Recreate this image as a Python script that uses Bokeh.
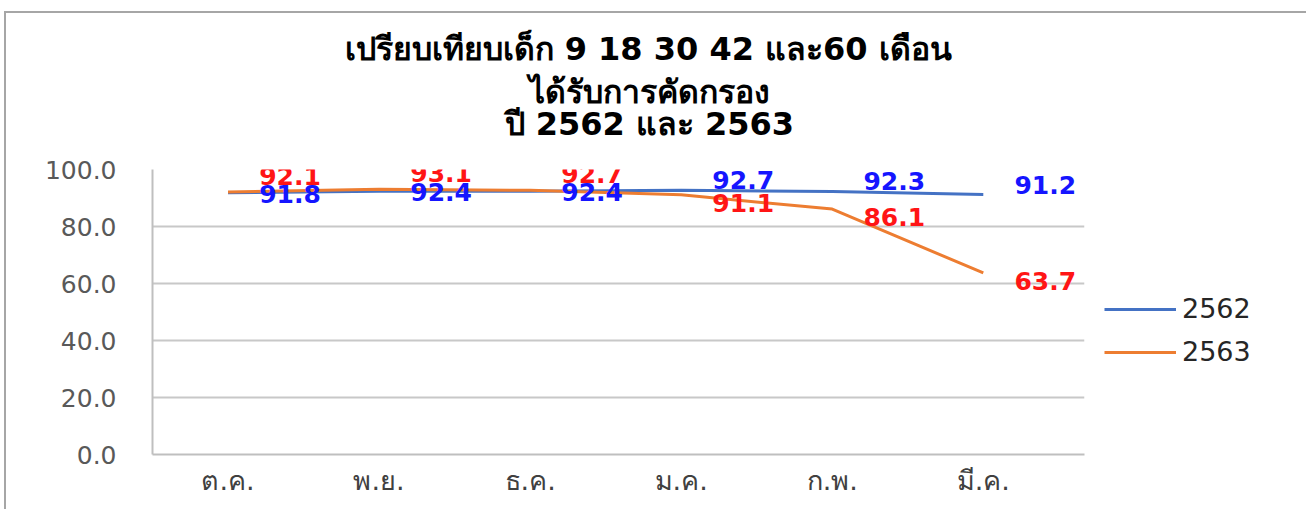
from bokeh.plotting import figure
from bokeh.models import (Legend, LegendItem, Title, ColumnDataSource, Range1d,
                          LabelSet, CustomJSTickFormatter, FixedTicker)
from bokeh.core.properties import value
from bokeh.embed import file_html
from bokeh.resources import INLINE

months = ["ต.ค.", "พ.ย.", "ธ.ค.", "ม.ค.", "ก.พ.", "มี.ค."]
y2562 = [91.8, 92.4, 92.4, 92.7, 92.3, 91.2]
y2563 = [92.1, 93.1, 92.7, 91.1, 86.1, 63.7]
series_names = ["2562", "2563"]
title_lines = ["เปรียบเทียบเด็ก 9 18 30 42 และ60 เดือน", "ได้รับการคัดกรอง", "ปี 2562 และ 2563"]
y_ticks = [0, 20, 40, 60, 80, 100]

BLUE = "#4472C4"
ORANGE = "#ED7D31"

# category centres on a numeric axis (room on the right for the last data labels)
xpos = [i + 0.5 for i in range(len(months))]

p = figure(x_range=Range1d(0, len(months) + 0.17), y_range=Range1d(0, 100),
           width=1292, height=496, frame_width=932, frame_height=285,
           min_border_left=146, min_border_right=214, min_border_top=156, min_border_bottom=55,
           output_backend="svg", toolbar_location=None, tools="", title=None)
p.styles = {"border": "2px solid #A6A6A6", "margin-left": "4px", "margin-top": "11px"}
p.outline_line_color = None
p.background_fill_color = "white"

r1 = p.line(xpos, y2562, line_color=BLUE, line_width=3)
r2 = p.line(xpos, y2563, line_color=ORANGE, line_width=3)

# data labels
off_blue = [10 if b > o else -1 for b, o in zip(y2562, y2563)]
off_org = [16 if o > b else -8 for b, o in zip(y2562, y2563)]
src_b = ColumnDataSource(dict(x=xpos, y=y2562, t=[f"{v:.1f}" for v in y2562], dy=off_blue))
src_o = ColumnDataSource(dict(x=xpos, y=y2563, t=[f"{v:.1f}" for v in y2563], dy=off_org))
for src, col in ((src_b, "#1515FF"), (src_o, "#FF1515")):
    p.add_layout(LabelSet(x="x", y="y", text="t", source=src, x_offset=62, y_offset="dy",
                          text_color=col, text_font=value("DejaVu Sans"), text_font_style="bold",
                          text_font_size="25px", text_align="center", text_baseline="middle"))

# axes
p.yaxis.ticker = y_ticks
p.yaxis.formatter = CustomJSTickFormatter(code="return tick.toFixed(1)")
p.yaxis.major_tick_line_color = None
p.yaxis.minor_tick_line_color = None
p.yaxis.axis_line_color = "#BFBFBF"
p.yaxis.axis_line_width = 2
p.yaxis.major_label_standoff = 30
p.yaxis.major_label_text_font = "DejaVu Sans"
p.yaxis.major_label_text_font_size = "25px"
p.yaxis.major_label_text_color = "#595959"

p.xaxis.ticker = FixedTicker(ticks=xpos)
p.xaxis.major_label_overrides = {x: m for x, m in zip(xpos, months)}
p.xaxis.major_tick_line_color = None
p.xaxis.minor_tick_line_color = None
p.xaxis.axis_line_color = "#BFBFBF"
p.xaxis.axis_line_width = 2
p.xaxis.major_label_standoff = 4
p.xaxis.major_label_text_font = "DejaVu Sans"
p.xaxis.major_label_text_font_size = "27px"
p.xaxis.major_label_text_color = "#404040"

p.xgrid.grid_line_color = None
p.ygrid.grid_line_color = "#C8C8C8"
p.ygrid.grid_line_width = 2

# spacer between the plot area and the title block
p.add_layout(Title(text=" ", text_font_size="10px", standoff=22), "above")
# title lines (added from the plot outward)
title_offsets = [192, 376, 352]
title_standoffs = [6, 0, -16]
for txt, off, so in reversed(list(zip(title_lines, title_offsets, title_standoffs))):
    p.add_layout(Title(text=txt, align="left", offset=off, text_font="DejaVu Sans",
                       text_font_style="bold", text_font_size="32px", text_color="#000000",
                       standoff=so), "above")

legend = Legend(items=[LegendItem(label=series_names[0], renderers=[r1]),
                       LegendItem(label=series_names[1], renderers=[r2])],
                location=(20, 87), orientation="vertical",
                glyph_width=72, glyph_height=26, label_height=26, label_standoff=6, spacing=12,
                padding=0, margin=0, border_line_color=None, background_fill_alpha=0,
                label_text_font="DejaVu Sans", label_text_font_size="27px", label_text_color="#262626")
p.add_layout(legend, "right")

open("out.html", "w").write(file_html(p, INLINE))
